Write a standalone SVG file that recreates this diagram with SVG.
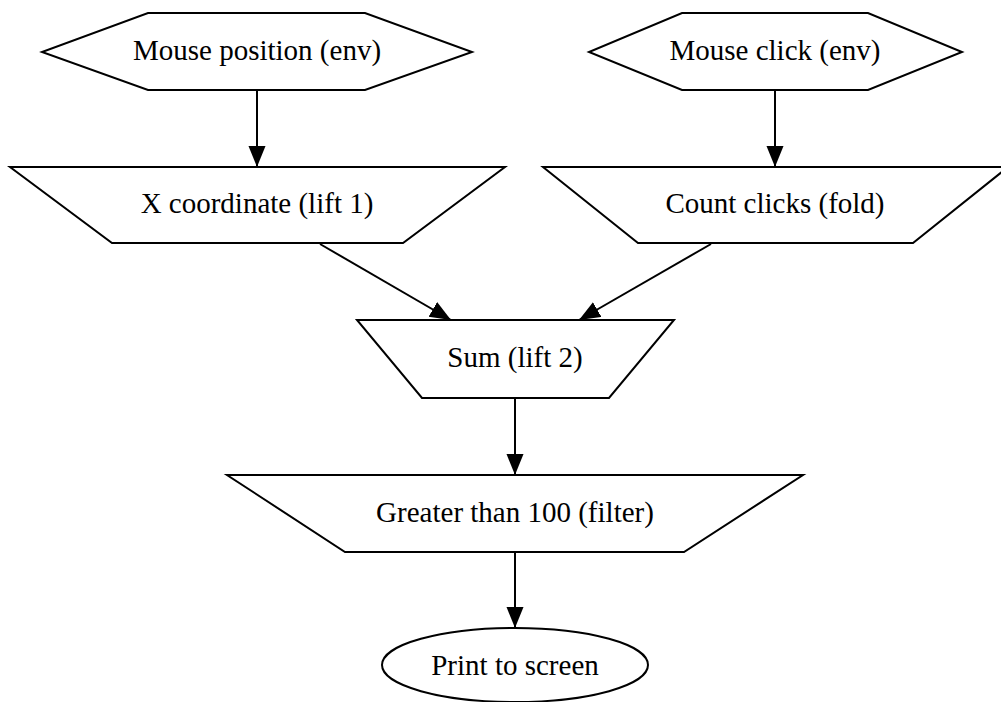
<svg xmlns="http://www.w3.org/2000/svg" width="1001" height="702" viewBox="0 0 1001 702">
<style>
.n{fill:#fff;stroke:#000;stroke-width:2}
.t{font-family:"Liberation Serif","Times New Roman",serif;font-size:29px;fill:#000;text-anchor:middle}
.e{stroke:#000;stroke-width:2;fill:none;marker-end:url(#ah)}
</style>
<defs>
<marker id="ah" markerUnits="userSpaceOnUse" markerWidth="24" markerHeight="20" refX="21" refY="8.5" orient="auto">
<path d="M0,0 L21,8.5 L0,17 Z" fill="#000"/>
</marker>
</defs>
<rect width="1001" height="702" fill="#fff"/>
<g id="connectors">
<line class="e" x1="257" y1="90" x2="257" y2="167"/>
<line class="e" x1="775" y1="90" x2="775" y2="167"/>
<line class="e" x1="320" y1="244" x2="451" y2="320"/>
<line class="e" x1="711" y1="244" x2="579" y2="320"/>
<line class="e" x1="515" y1="398" x2="515" y2="475"/>
<line class="e" x1="515" y1="552" x2="515" y2="628"/>
</g>
<g id="mouse_position">
<polygon class="n" points="148,13 365,13 472,52 365,90 148,90 42,52"/>
<text class="t" x="257" y="60">Mouse position (env)</text>
</g>
<g id="mouse_click">
<polygon class="n" points="682,13 868,13 962,52 868,90 682,90 589,52"/>
<text class="t" x="775" y="60">Mouse click (env)</text>
</g>
<g id="x_coordinate">
<polygon class="n" points="10,167 505,167 403,243 112,243"/>
<text class="t" x="257" y="213">X coordinate (lift 1)</text>
</g>
<g id="count_clicks">
<polygon class="n" points="543,167 1008,167 913,243 638,243"/>
<text class="t" x="775" y="213">Count clicks (fold)</text>
</g>
<g id="sum">
<polygon class="n" points="357,320 674,320 609,398 422,398"/>
<text class="t" x="515" y="367">Sum (lift 2)</text>
</g>
<g id="greater">
<polygon class="n" points="227,475 803,475 684,552 345,552"/>
<text class="t" x="515" y="522">Greater than 100 (filter)</text>
</g>
<g id="print">
<ellipse class="n" cx="515" cy="665" rx="133" ry="37"/>
<text class="t" x="515" y="675">Print to screen</text>
</g>
</svg>
